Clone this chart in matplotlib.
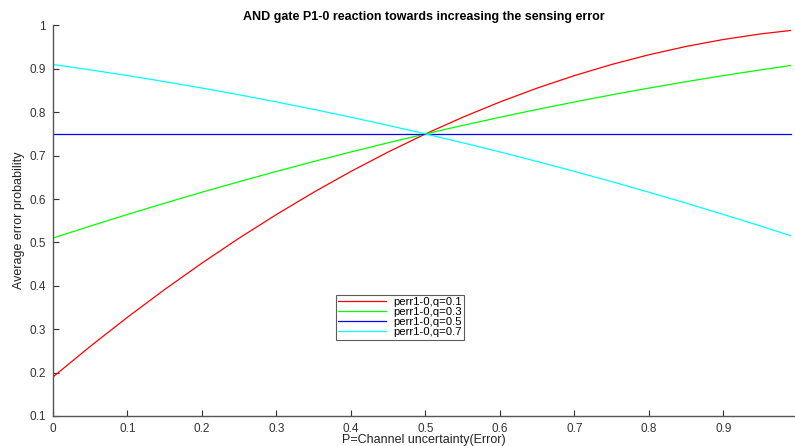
import matplotlib
matplotlib.use("Agg")
import matplotlib.pyplot as plt

p = [0, 0.05, 0.1, 0.15, 0.2, 0.25, 0.3, 0.35, 0.4, 0.45, 0.5,
     0.55, 0.6, 0.65, 0.7, 0.75, 0.8, 0.85, 0.9, 0.95, 0.99]
perr_q01 = [0.19, 0.2604, 0.3276, 0.3916, 0.4524, 0.51, 0.5644, 0.6156, 0.6636, 0.7084, 0.75,
            0.7884, 0.8236, 0.8556, 0.8844, 0.91, 0.9324, 0.9516, 0.9676, 0.9804, 0.9883]
perr_q03 = [0.51, 0.5376, 0.5644, 0.5904, 0.6156, 0.64, 0.6636, 0.6864, 0.7084, 0.7296, 0.75,
            0.7696, 0.7884, 0.8064, 0.8236, 0.84, 0.8556, 0.8704, 0.8844, 0.8976, 0.9076]
perr_q05 = [0.75] * 21
perr_q07 = [0.91, 0.8976, 0.8844, 0.8704, 0.8556, 0.84, 0.8236, 0.8064, 0.7884, 0.7696, 0.75,
            0.7296, 0.7084, 0.6864, 0.6636, 0.64, 0.6156, 0.5904, 0.5644, 0.5376, 0.5156]
labels = ["perr1-0,q=0.1", "perr1-0,q=0.3", "perr1-0,q=0.5", "perr1-0,q=0.7"]
colors = ["#ff0000", "#00ff00", "#0000ff", "#00ffff"]
xticks = [0, 0.1, 0.2, 0.3, 0.4, 0.5, 0.6, 0.7, 0.8, 0.9]
yticks = [0.1, 0.2, 0.3, 0.4, 0.5, 0.6, 0.7, 0.8, 0.9, 1.0]

plt.rcParams['font.family'] = ['Liberation Sans', 'DejaVu Sans']
fig = plt.figure(figsize=(7.95, 4.46), dpi=100)
ax = fig.add_axes([53/795, 30/446, 742/795, 390.6/446])

for s, lab, c in zip([perr_q01, perr_q03, perr_q05, perr_q07], labels, colors):
    ax.plot(p, s, color=c, lw=0.9, label=lab)

ax.set_xlim(0, 0.996)
ax.set_ylim(0.1, 1.0)
ax.set_xticks(xticks)
ax.set_xticklabels(["0"] + [f"{v:g}" for v in xticks[1:]])
ax.set_yticks(yticks)
ax.set_yticklabels([f"{v:g}" for v in yticks])
for side in ["top", "right"]:
    ax.spines[side].set_visible(False)
for side in ["left", "bottom"]:
    ax.spines[side].set_color("#555555")
    ax.spines[side].set_linewidth(1.0)
ax.tick_params(direction="in", length=4, width=0.8, colors="#333333", labelsize=8.5, pad=5)

ax.set_title("AND gate P1-0 reaction towards increasing the sensing error",
             fontsize=9, fontweight="bold", pad=4)
ax.set_xlabel("P=Channel uncertainty(Error)", fontsize=9, labelpad=-1, color="#222222")
ax.set_ylabel("Average error probability", fontsize=9, labelpad=3, color="#222222")

leg = ax.legend(loc="upper left", bbox_to_anchor=((336-53)/742, (416-295)/390.6),
                fontsize=8.2, frameon=True, fancybox=False, handlelength=4.2,
                borderpad=0.2, labelspacing=0.0, handletextpad=0.6, borderaxespad=0)
leg.get_frame().set_edgecolor("#333333")
leg.get_frame().set_linewidth(0.8)

fig.savefig("out.png", dpi=100)
